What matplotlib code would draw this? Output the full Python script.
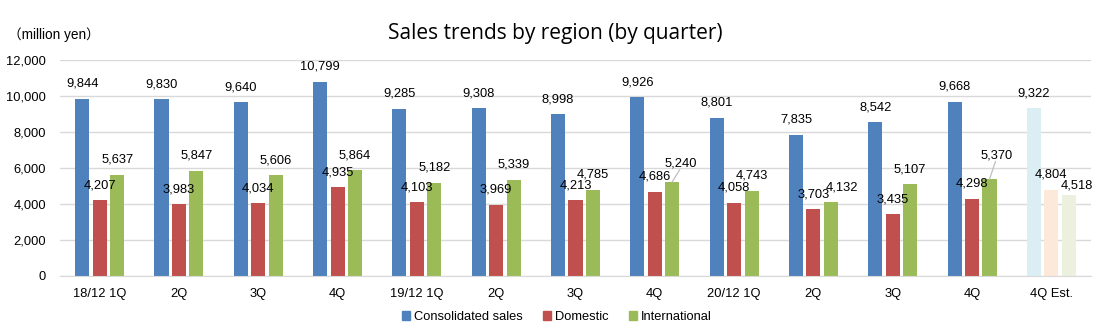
import numpy as np
import matplotlib.pyplot as plt
from matplotlib.patches import Patch

# quarterly sales, million yen
categories = ['18/12 1Q', '2Q', '3Q', '4Q', '19/12 1Q', '2Q', '3Q', '4Q',
              '20/12 1Q', '2Q', '3Q', '4Q', '4Q Est.']
consolidated = [9844, 9830, 9640, 10799, 9285, 9308, 8998, 9926, 8801, 7835, 8542, 9668, 9322]
domestic = [4207, 3983, 4034, 4935, 4103, 3969, 4213, 4686, 4058, 3703, 3435, 4298, 4804]
international = [5637, 5847, 5606, 5864, 5182, 5339, 4785, 5240, 4743, 4132, 5107, 5370, 4518]
series_names = ['Consolidated sales', 'Domestic', 'International']

# colours: actual quarters, then the faded estimate column
colors = ['#4f81bd', '#c0504d', '#9bbb59']
est_colors = ['#daeef3', '#fde9d9', '#ebf1de']

# label nudges in pixels (dx, dy above bar top), with leader line flag
nudges = {(2, 7): (8.5, 18, True), (2, 9): (11, 14, False),
          (2, 11): (7, 24, True), (2, 12): (8.5, 9, False)}

font = ['Liberation Sans', 'Noto Sans CJK JP']
plt.rcParams['font.family'] = font

fig = plt.figure(figsize=(11.09, 3.30), dpi=100)
ax = fig.add_axes([60 / 1109, 54 / 330, 1031 / 1109, 216 / 330])

x = np.arange(len(categories))
width = 0.177
step = 0.22
n_est = 1

for s, vals in enumerate([consolidated, domestic, international]):
    cols = [colors[s]] * (len(vals) - n_est) + [est_colors[s]] * n_est
    pos = x + (s - 1) * step
    ax.bar(pos, vals, width, color=cols, zorder=2)
    for i, v in enumerate(vals):
        dx, dy, leader = nudges.get((s, i), (0, 15, False))
        ax.annotate(f'{v:,}', (pos[i], v), xytext=(dx * 0.72, dy * 0.72),
                    textcoords='offset points', ha='center', va='center',
                    fontsize=9.3, color='black', zorder=3)
        if leader:
            ax.annotate('', (pos[i], v), xytext=((dx - 1) * 0.72, (dy - 6) * 0.72),
                        textcoords='offset points',
                        arrowprops=dict(arrowstyle='-', color='#bfbfbf', lw=0.9,
                                        shrinkA=0, shrinkB=0))

ax.set_xlim(-0.5, len(categories) - 0.5)
ax.set_ylim(0, 12000)
ax.set_yticks(np.arange(0, 12001, 2000))
ax.set_yticklabels([f'{t:,}' for t in range(0, 12001, 2000)], fontsize=9.3)
ax.set_xticks(x)
ax.set_xticklabels(categories, fontsize=9.3)
ax.tick_params(length=0, pad=10)
ax.tick_params(axis='x', pad=9)
ax.grid(axis='y', color='#d9d9d9', lw=1, zorder=0)
for side in ['top', 'right', 'left']:
    ax.spines[side].set_visible(False)
ax.spines['bottom'].set_color('#d9d9d9')

fig.text(555 / 1109, 1 - 33 / 330, 'Sales trends by region (by quarter)',
         ha='center', va='center', fontsize=15, family=['Open Sans', 'DejaVu Sans'])
fig.text(8 / 1109, 1 - 35 / 330, '（million yen）', ha='left', va='center',
         fontsize=9.8, family=font)

handles = [Patch(color=c) for c in colors]
fig.legend(handles, series_names, loc='center', bbox_to_anchor=(557 / 1109, 13 / 330),
           ncol=3, frameon=False, fontsize=9.3, handlelength=0.6, handleheight=0.6,
           handletextpad=0.3, columnspacing=1.6)

fig.savefig('out.png', dpi=100)
